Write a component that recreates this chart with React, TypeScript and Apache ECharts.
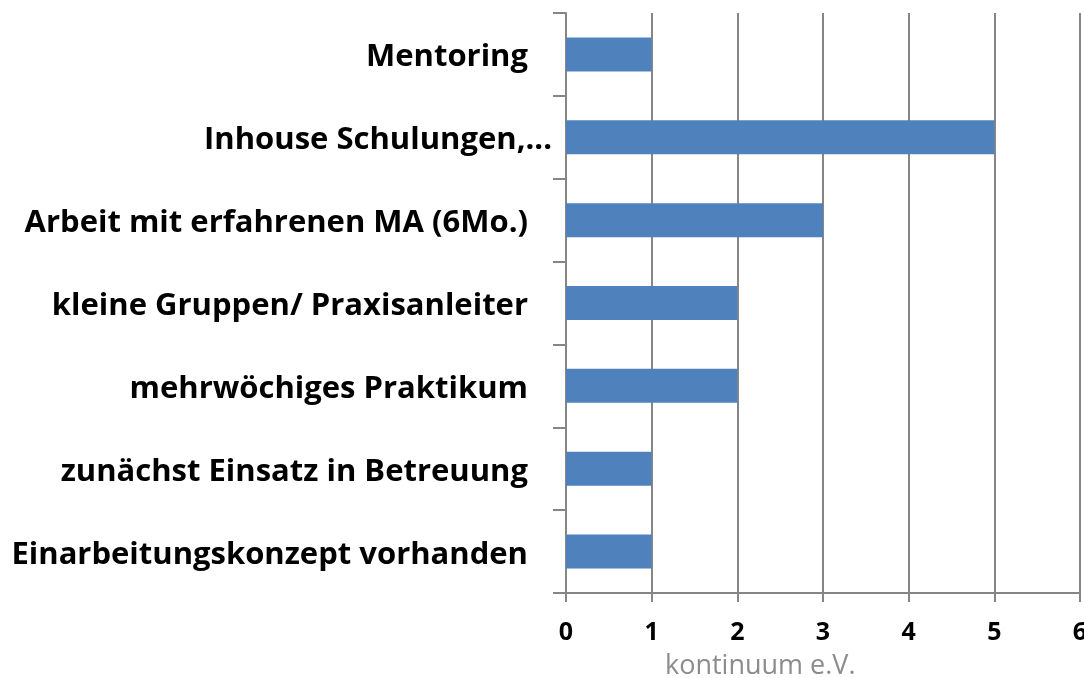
import React, { useEffect, useRef } from "react";
import * as echarts from "echarts";

const categories = [
  "Einarbeitungskonzept vorhanden",
  "zunächst Einsatz in Betreuung",
  "mehrwöchiges Praktikum",
  "kleine Gruppen/ Praxisanleiter",
  "Arbeit mit erfahrenen MA (6Mo.)",
  "Inhouse Schulungen,...",
  "Mentoring",
];
const values = [1, 1, 2, 2, 3, 5, 1];
const xTicks = [0, 1, 2, 3, 4, 5, 6];
const sourceNote = "kontinuum e.V.";
// labels that in the original carry trailing spaces
const trailingSpace = [true, true, true, true, true, false, true];

export default function App() {
  const ref = useRef<HTMLDivElement>(null);
  useEffect(() => {
    if (!ref.current) return;
    const chart = echarts.init(ref.current, null, { renderer: "svg" });
    const gray = "#868686";
    const font = "'Open Sans', Lato, sans-serif";
    chart.setOption({
      animation: false,
      grid: {
        left: 566,
        right: 4,
        top: 13,
        bottom: 85,
        containLabel: false,
        outerBoundsMode: "none",
      },
      xAxis: {
        type: "value",
        min: xTicks[0],
        max: xTicks[xTicks.length - 1],
        interval: 1,
        axisLine: { show: true, lineStyle: { color: gray, width: 2 } },
        axisTick: { show: true, length: 9, lineStyle: { color: gray, width: 2 } },
        splitLine: { show: true, lineStyle: { color: gray, width: 2 } },
        axisLabel: {
          margin: 24,
          color: "#000",
          fontFamily: font,
          fontWeight: "bold",
          fontSize: 25,
          showMaxLabel: true,
          hideOverlap: false,
        },
      },
      yAxis: {
        type: "category",
        data: categories.map((c, i) => ({
          value: c,
          textStyle: { padding: [0, trailingSpace[i] ? 24 : 0, 0, 0] },
        })),
        axisLine: { show: true, lineStyle: { color: gray, width: 2 } },
        axisTick: { show: true, length: 13, lineStyle: { color: gray, width: 2 } },
        axisLabel: {
          margin: 14,
          color: "#000",
          fontFamily: font,
          fontWeight: "bold",
          fontSize: 31,
        },
      },
      series: [
        {
          type: "bar",
          data: values,
          barWidth: 34,
          itemStyle: { color: "#4F81BD" },
        },
      ],
      graphic: [
        {
          type: "text",
          left: 665,
          top: 650,
          style: {
            text: sourceNote,
            fill: "#8c8c8c",
            font: "27px 'Open Sans', Lato, sans-serif",
          },
        },
      ],
    });
    return () => chart.dispose();
  }, []);
  return (
    <div
      ref={ref}
      style={{ position: "fixed", left: 0, top: 0, width: 1084, height: 678 }}
    />
  );
}
